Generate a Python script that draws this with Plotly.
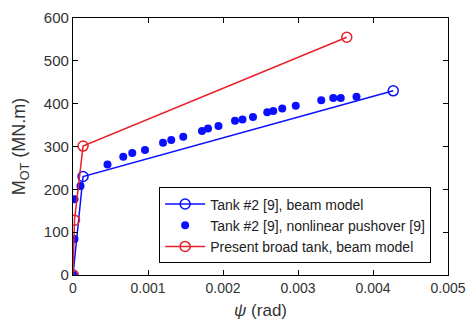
import plotly.graph_objects as go

# Tank #2 [9], beam model
beam_x = [0, 0.000134, 0.00427]
beam_y = [0, 230, 430]

# Tank #2 [9], nonlinear pushover [9]
push_x = [0, 0.00002, 0.00002, 0.0001, 0.00046, 0.00067, 0.00079, 0.00096, 0.0012, 0.00131,
          0.00147, 0.00172, 0.0018, 0.00194, 0.00216, 0.00226, 0.0024, 0.00259, 0.00267,
          0.00279, 0.00297, 0.00331, 0.00347, 0.00357, 0.00378]
push_y = [0, 84, 177, 208, 258, 276, 285, 292, 309, 315,
          323, 336, 342, 348, 360, 363, 369, 380, 383,
          389, 395, 408, 413, 413, 416]

# Present broad tank, beam model
broad_x = [0, 0.00002, 0.000134, 0.00365]
broad_y = [0, 128, 301, 555]

x_ticks = [0, 0.001, 0.002, 0.003, 0.004, 0.005]
x_tick_labels = ["0", "0.001", "0.002", "0.003", "0.004", "0.005"]
y_ticks = [0, 100, 200, 300, 400, 500, 600]

BLUE = "#0a10ff"
RED = "#e8202a"
FONT = "Liberation Sans, Arial"

fig = go.Figure()
fig.add_trace(go.Scatter(
    x=beam_x, y=beam_y, mode="lines+markers", name="Tank #2 [9], beam model",
    line=dict(color=BLUE, width=1.5),
    marker=dict(symbol="circle-open", size=10, color=BLUE, line=dict(width=1.5)),
))
fig.add_trace(go.Scatter(
    x=push_x, y=push_y, mode="markers", name="Tank #2 [9], nonlinear pushover [9]",
    marker=dict(symbol="circle", size=8, color=BLUE),
))
fig.add_trace(go.Scatter(
    x=broad_x, y=broad_y, mode="lines+markers", name="Present broad tank, beam model",
    line=dict(color=RED, width=1.5),
    marker=dict(symbol="circle-open", size=10, color=RED, line=dict(width=1.5)),
))

axis_common = dict(
    showline=True, linecolor="black", linewidth=1.2, mirror="ticks",
    ticks="inside", ticklen=5, tickcolor="black", showgrid=False, zeroline=False,
    automargin=False,
)

fig.update_layout(
    width=466, height=320,
    margin=dict(l=73, r=18, t=18, b=45),
    paper_bgcolor="white", plot_bgcolor="white",
    font=dict(family=FONT, size=14, color="#333"),
    xaxis=dict(range=[0, 0.005], tickvals=x_ticks, ticktext=x_tick_labels,
               tickfont=dict(family=FONT, size=14, color="#333"),
               ticklabeloverflow="allow",
               title=dict(text="<i>ψ</i> (rad)", font=dict(size=17), standoff=9),
               **axis_common),
    yaxis=dict(range=[0, 600], tickvals=y_ticks,
               tickfont=dict(family=FONT, size=15, color="#333"),
               title=dict(text="M<sub>OT</sub> (MN.m)", font=dict(size=18), standoff=13),
               **axis_common),
    legend=dict(x=0.955, y=0.045, xanchor="right", yanchor="bottom",
                bgcolor="white", bordercolor="black", borderwidth=1,
                font=dict(family=FONT, size=14, color="#222"),
                tracegroupgap=0, itemwidth=40),
    showlegend=True,
)

fig.write_html("out.html")
